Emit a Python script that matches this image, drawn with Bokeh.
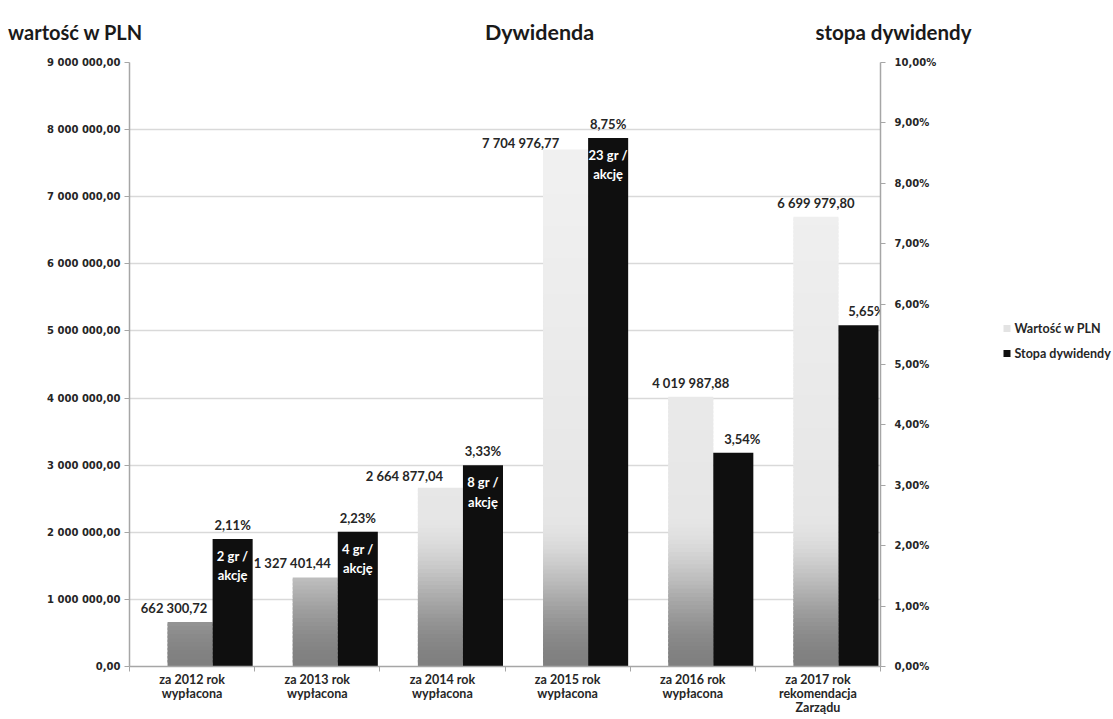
import numpy as np
from bokeh.plotting import figure
from bokeh.layouts import column, row
from bokeh.models import Range1d, LinearAxis, FixedTicker, ColumnDataSource
from bokeh.core.properties import value
from bokeh.embed import file_html
from bokeh.resources import INLINE

# ---------------- data ----------------
categories = [
    "za 2012 rok\nwypłacona",
    "za 2013 rok\nwypłacona",
    "za 2014 rok\nwypłacona",
    "za 2015 rok\nwypłacona",
    "za 2016 rok\nwypłacona",
    "za 2017 rok\nrekomendacja\nZarządu",
]
wartosc = [662300.72, 1327401.44, 2664877.04, 7704976.77, 4019987.88, 6699979.80]
wartosc_labels = ["662 300,72", "1 327 401,44", "2 664 877,04", "7 704 976,77", "4 019 987,88", "6 699 979,80"]
stopa = [2.11, 2.23, 3.33, 8.75, 3.54, 5.65]
stopa_labels = ["2,11%", "2,23%", "3,33%", "8,75%", "3,54%", "5,65%"]
akcja_labels = ["2 gr /\nakcję", "4 gr /\nakcję", "8 gr /\nakcję", "23 gr /\nakcję", "", ""]
left_ticks = [0, 1000000, 2000000, 3000000, 4000000, 5000000, 6000000, 7000000, 8000000, 9000000]
left_tick_labels = ["0,00", "1 000 000,00", "2 000 000,00", "3 000 000,00", "4 000 000,00",
                    "5 000 000,00", "6 000 000,00", "7 000 000,00", "8 000 000,00", "9 000 000,00"]
right_ticks = [0, 1, 2, 3, 4, 5, 6, 7, 8, 9, 10]
right_tick_labels = ["0,00%", "1,00%", "2,00%", "3,00%", "4,00%", "5,00%",
                     "6,00%", "7,00%", "8,00%", "9,00%", "10,00%"]
series_names = ["Wartość w PLN", "Stopa dywidendy"]
titles = ["wartość w PLN", "Dywidenda", "stopa dywidendy"]

# ---------------- layout / style ----------------
LIGHT_POS, LIGHT_W = 0.484, 0.36
BLACK_POS, BLACK_W = 0.824, 0.32
val_dx = [-16, -23, -36, -45, 0, 0]     # label nudges (px)
val_dy = [-14, -14, -12, -6, -14, -14]
pct_dx = [0, 0, 0, 0, 9, 8]
LABEL_FONT = "Lato"
TICK_FONT = "DejaVu Sans"
LIGHT = "#e3e3e3"
DARK = "#0f0f0f"
TXT = "#262626"

W, H = 1113, 719
TOP_H = 50                      # height of the title strip
MAIN_W = 960                    # width of the chart figure
MAIN_H = H - TOP_H
FL, FR, FT, FB = 129, 880, 62, 666   # frame edges in page px


def bare(fig):
    fig.outline_line_color = None
    fig.xgrid.visible = False
    fig.ygrid.visible = False
    fig.border_fill_color = "white"
    fig.background_fill_color = "white"
    return fig


# ---------- title strip ----------
tf = bare(figure(width=W, height=TOP_H, output_backend="svg", toolbar_location=None,
                 x_range=Range1d(0, W), y_range=Range1d(TOP_H, 0),
                 x_axis_type=None, y_axis_type=None, min_border=0))
tf.text(x=[75, 539, 893], y=[31, 31, 31], text=titles, text_align="center",
        text_baseline="alphabetic", text_font=value(LABEL_FONT), text_font_style="bold",
        text_font_size=["20px", "21.5px", "20.5px"], text_color="#1a1a1a")

# ---------- main chart ----------
p = figure(width=MAIN_W, height=MAIN_H, output_backend="svg", toolbar_location=None,
           x_range=Range1d(0, len(categories)), y_range=Range1d(0, 9000000),
           min_border_left=FL, min_border_right=MAIN_W - FR,
           min_border_top=FT - TOP_H, min_border_bottom=H - FB)
p.outline_line_color = None
p.border_fill_color = "white"
p.background_fill_color = "white"
p.xgrid.visible = False
p.ygrid.ticker = FixedTicker(ticks=left_ticks)
p.ygrid.grid_line_color = "#d9d9d9"
p.ygrid.grid_line_width = 1.5
p.extra_y_ranges = {"pct": Range1d(0, 10)}

idx = np.arange(len(categories))

# light bars with a vertical gradient (thin overlapping slices)
L, R, B, T, C = [], [], [], [], []
for i, v in enumerate(wartosc):
    n = max(3, int(v / 60000))
    edges = np.linspace(0, v, n + 1)
    for b, t in zip(edges[:-1], edges[1:]):
        m = 0.5 * (b + t)
        f = min(m / 2300000.0, 1.0)
        f = f * f * (3 - 2 * f)
        g = 128 + (230 - 128) * f
        if m > 2300000.0:
            g = 230 + 10 * min((m - 2300000.0) / 5000000.0, 1.0)
        g = int(round(g))
        L.append(i + LIGHT_POS - LIGHT_W / 2)
        R.append(i + LIGHT_POS + LIGHT_W / 2)
        B.append(b)
        T.append(min(t + 40000, v))
        C.append("#%02x%02x%02x" % (g, g, g))
p.quad(left=L, right=R, bottom=B, top=T, fill_color=C, line_color=None)

src = ColumnDataSource(dict(
    xl=idx + LIGHT_POS, xb=idx + BLACK_POS, wartosc=wartosc, stopa=stopa,
    wl=wartosc_labels, sl=stopa_labels, al=akcja_labels,
    vdx=val_dx, vdy=val_dy, pdx=pct_dx,
))
p.vbar(x="xb", top="stopa", width=BLACK_W, source=src, y_range_name="pct",
       fill_color=DARK, line_color=None)

p.text(x="xl", y="wartosc", text="wl", source=src, x_offset="vdx", y_offset="vdy",
       text_align="center", text_baseline="middle", text_font=value(LABEL_FONT),
       text_font_style="bold", text_font_size="13px", text_color=TXT)
p.text(x="xb", y="stopa", text="sl", source=src, y_range_name="pct", x_offset="pdx", y_offset=-14,
       text_align="center", text_baseline="middle", text_font=value(LABEL_FONT),
       text_font_style="bold", text_font_size="13px", text_color=TXT)
p.text(x="xb", y="stopa", text="al", source=src, y_range_name="pct", y_offset=9,
       text_align="center", text_baseline="top", text_font=value(LABEL_FONT),
       text_font_style="bold", text_font_size="13px", text_color="white", text_line_height=1.2)


def style_axis(ax):
    ax.axis_line_color = "#a6a6a6"
    ax.major_tick_line_color = "#a6a6a6"
    ax.minor_tick_line_color = "#a6a6a6"
    ax.axis_line_width = 1.5
    ax.major_label_text_color = TXT
    ax.axis_label = None


ya = p.yaxis[0]
ya.ticker = FixedTicker(ticks=left_ticks)
ya.major_label_overrides = dict(zip(left_ticks, left_tick_labels))
ya.major_tick_out = 5
ya.major_tick_in = 0
ya.major_label_standoff = 4
ya.major_label_text_font = TICK_FONT
ya.major_label_text_font_style = "bold"
ya.major_label_text_font_size = "10px"
style_axis(ya)

ra = LinearAxis(y_range_name="pct", ticker=FixedTicker(ticks=right_ticks))
ra.major_label_overrides = dict(zip(right_ticks, right_tick_labels))
ra.major_tick_out = 5
ra.major_tick_in = 0
ra.major_label_standoff = 9
ra.major_label_text_font = TICK_FONT
ra.major_label_text_font_style = "bold"
ra.major_label_text_font_size = "10px"
style_axis(ra)
p.add_layout(ra, "right")

xa = p.xaxis[0]
xa.ticker = FixedTicker(ticks=[i + 0.5 for i in idx], minor_ticks=list(range(len(categories) + 1)))
xa.major_label_overrides = {float(i + 0.5): c for i, c in enumerate(categories)}
xa.major_tick_out = 0
xa.major_tick_in = 0
xa.minor_tick_out = 5
xa.minor_tick_in = 0
xa.major_label_standoff = 0
xa.major_label_text_font = LABEL_FONT
xa.major_label_text_font_style = "bold"
xa.major_label_text_font_size = "12.5px"
xa.major_label_text_line_height = 0.95
style_axis(xa)

# ---------- legend strip (its frame is aligned with the chart frame by the row) ----------
LG_W = W - MAIN_W
lg = bare(figure(width=LG_W, height=MAIN_H, output_backend="svg", toolbar_location=None,
                 x_range=Range1d(MAIN_W, W), y_range=Range1d(FB, FT),
                 x_axis_type=None, y_axis_type=None, min_border=0))
leg_y = [328, 353]
lg.rect(x=[1006.5, 1006.5], y=leg_y, width=7, height=7, width_units="screen", height_units="screen",
        fill_color=[LIGHT, DARK], line_color=None)
lg.text(x=[1014, 1014], y=leg_y, text=series_names, text_align="left", text_baseline="middle",
        text_font=value(LABEL_FONT), text_font_style="bold", text_font_size="12.5px", text_color=TXT)

layout = column(tf, row(p, lg, spacing=0), spacing=0)
open("out.html", "w").write(file_html(layout, INLINE))
